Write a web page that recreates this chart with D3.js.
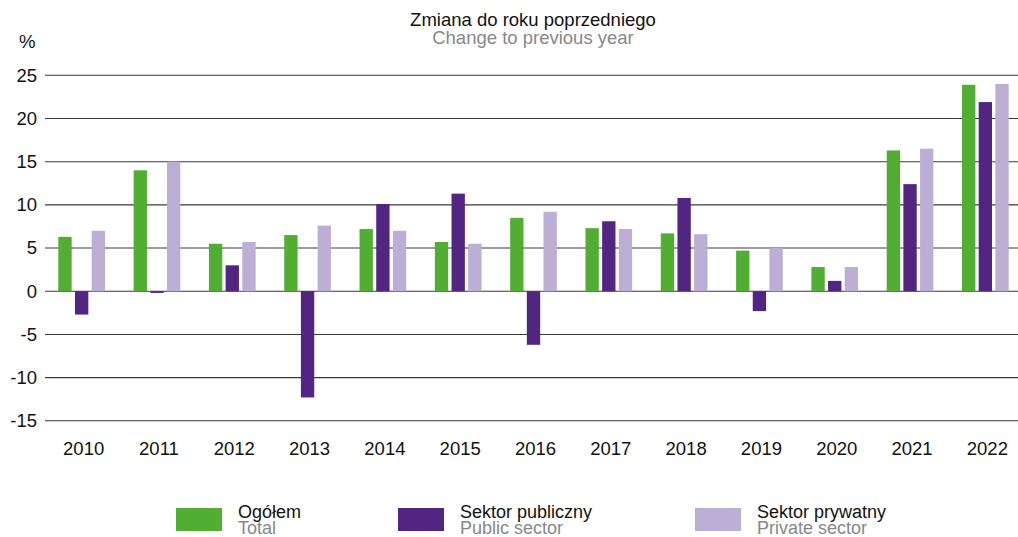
<!DOCTYPE html>
<html>
<head>
<meta charset="utf-8">
<script src="https://cdn.jsdelivr.net/npm/d3@7"></script>
<style>
    body { margin: 0; background: #fff; }
    svg { font-family: 'Liberation Sans', Arial, sans-serif; }
</style>
</head>
<body>
<div id="chart"></div>
<script>
// Data
const years = ['2010', '2011', '2012', '2013', '2014', '2015', '2016', '2017', '2018', '2019', '2020', '2021', '2022'];
const total = [6.3, 14.0, 5.5, 6.5, 7.2, 5.7, 8.5, 7.3, 6.7, 4.7, 2.8, 16.3, 23.9];
const publicSector = [-2.7, -0.2, 3.0, -12.3, 10.1, 11.3, -6.2, 8.1, 10.8, -2.3, 1.2, 12.4, 21.9];
const privateSector = [7.0, 15.0, 5.7, 7.6, 7.0, 5.5, 9.2, 7.2, 6.6, 5.0, 2.8, 16.5, 24.0];
const yTicks = [25, 20, 15, 10, 5, 0, -5, -10, -15];

const seriesKeys = ['total', 'public', 'private'];
const seriesNames = [
    { pl: 'Ogółem', en: 'Total' },
    { pl: 'Sektor publiczny', en: 'Public sector' },
    { pl: 'Sektor prywatny', en: 'Private sector' }
];
const colors = ['#52ad33', '#522583', '#bcaed5'];

const data = years.map((y, i) => ({
    year: y,
    values: [total[i], publicSector[i], privateSector[i]]
}));

const fontSize = '18.5px';

// Dimensions
const W = 1018, H = 537;
const svg = d3.select('#chart').append('svg')
    .attr('width', W)
    .attr('height', H);

// Scales
const x0 = d3.scaleBand()
    .domain(years)
    .range([44, 1023]);

const x1 = d3.scaleBand()
    .domain(seriesKeys)
    .range([-25, 25])
    .paddingInner(0.2)
    .paddingOuter(0.1);

const y = d3.scaleLinear()
    .domain([-15, 25])
    .range([420.8, 75.3]);

// Grid lines
svg.append('g')
    .selectAll('line')
    .data(yTicks)
    .enter()
    .append('line')
    .attr('x1', 45)
    .attr('x2', W)
    .attr('y1', d => y(d))
    .attr('y2', d => y(d))
    .attr('stroke', '#3a3a3a')
    .attr('stroke-width', 1.1);

// Y axis labels (plain hyphen for negatives, like the original)
const yAxis = d3.axisLeft(y)
    .tickValues(yTicks)
    .tickFormat(d => String(d))
    .tickSize(0)
    .tickPadding(0);
svg.append('g')
    .attr('transform', 'translate(37, 0)')
    .call(yAxis)
    .call(g => g.select('.domain').remove())
    .call(g => g.selectAll('text')
        .attr('font-size', fontSize)
        .attr('fill', '#111')
        .attr('font-family', "'Liberation Sans', Arial, sans-serif"));

svg.append('text')
    .attr('x', 19)
    .attr('y', 48)
    .attr('font-size', fontSize)
    .attr('fill', '#111')
    .text('%');

// Bars
const groups = svg.append('g')
    .selectAll('g')
    .data(data)
    .enter()
    .append('g')
    .attr('transform', d => `translate(${x0(d.year) + x0.bandwidth() / 2}, 0)`);

groups.selectAll('rect')
    .data(d => d.values.map((v, i) => ({ key: seriesKeys[i], value: v, color: colors[i] })))
    .enter()
    .append('rect')
    .attr('x', d => x1(d.key))
    .attr('width', x1.bandwidth())
    .attr('y', d => y(Math.max(0, d.value)))
    .attr('height', d => Math.abs(y(d.value) - y(0)))
    .attr('fill', d => d.color);

// X axis labels
const xAxis = d3.axisBottom(x0).tickSize(0).tickPadding(0);
svg.append('g')
    .attr('transform', 'translate(2, 442)')
    .call(xAxis)
    .call(g => g.select('.domain').remove())
    .call(g => g.selectAll('text')
        .attr('font-size', fontSize)
        .attr('fill', '#111')
        .attr('font-family', "'Liberation Sans', Arial, sans-serif"));

// Title
svg.append('text')
    .attr('x', 533)
    .attr('y', 26)
    .attr('text-anchor', 'middle')
    .attr('font-size', fontSize)
    .attr('fill', '#111')
    .text('Zmiana do roku poprzedniego');

svg.append('text')
    .attr('x', 533)
    .attr('y', 44)
    .attr('text-anchor', 'middle')
    .attr('font-size', fontSize)
    .attr('fill', '#888')
    .text('Change to previous year');

// Legend
const legendX = [176, 398, 695];
const legend = svg.append('g')
    .selectAll('g')
    .data(seriesNames)
    .enter()
    .append('g')
    .attr('transform', (d, i) => `translate(${legendX[i]}, 508)`);

legend.append('rect')
    .attr('width', 46)
    .attr('height', 23)
    .attr('fill', (d, i) => colors[i]);

legend.append('text')
    .attr('x', 62)
    .attr('y', 10)
    .attr('font-size', '18px')
    .attr('fill', '#111')
    .text(d => d.pl);

legend.append('text')
    .attr('x', 62)
    .attr('y', 26)
    .attr('font-size', '18px')
    .attr('fill', '#888')
    .text(d => d.en);
</script>
</body>
</html>
